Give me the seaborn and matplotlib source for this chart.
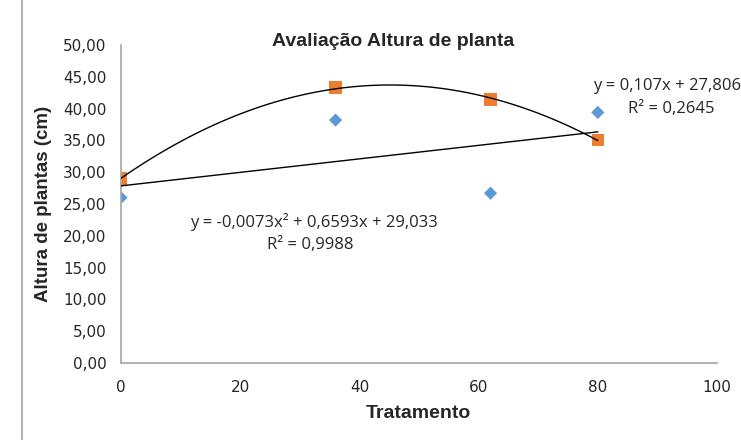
import matplotlib
matplotlib.use("Agg")
import matplotlib.pyplot as plt
from matplotlib.lines import Line2D
from matplotlib.ticker import FuncFormatter, MultipleLocator
import seaborn as sns
import pandas as pd

tratamento = [0, 36, 62, 80]
serie_azul = [26.0, 38.2, 26.7, 39.4]
serie_laranja = [29.0, 43.3, 41.4, 35.1]

title = "Avaliação Altura de planta"
xlabel = "Tratamento"
ylabel = "Altura de plantas (cm)"
eq_lin = "y = 0,107x + 27,806"
r2_lin = "R² = 0,2645"
eq_poly = "y = -0,0073x² + 0,6593x + 29,033"
r2_poly = "R² = 0,9988"

df_a = pd.DataFrame({"x": tratamento, "y": serie_azul})
df_l = pd.DataFrame({"x": tratamento, "y": serie_laranja})

sns.set_style("white")
plt.rcParams['font.family'] = ['Liberation Sans', 'DejaVu Sans']

fig = plt.figure(figsize=(7.41, 4.40), dpi=100)
ax = fig.add_axes([121/741, 1-363/440, (717-121)/741, (363-45)/440])

sns.scatterplot(data=df_a, x="x", y="y", marker="D", s=45, color="#5b9bd5",
                edgecolor="none", ax=ax, zorder=2)
sns.scatterplot(data=df_l, x="x", y="y", marker="s", s=80, color="#ed7d31",
                edgecolor="none", ax=ax, zorder=2)
sns.regplot(data=df_a, x="x", y="y", order=1, ci=None, scatter=False, truncate=True,
            line_kws={"color": "black", "lw": 1.0, "zorder": 3}, ax=ax)
sns.regplot(data=df_l, x="x", y="y", order=2, ci=None, scatter=False, truncate=True,
            line_kws={"color": "black", "lw": 1.0, "zorder": 3}, ax=ax)

ax.set_xlim(0, 100)
ax.set_ylim(0, 50)
ax.xaxis.set_major_locator(MultipleLocator(20))
ax.yaxis.set_major_locator(MultipleLocator(5))
ax.yaxis.set_major_formatter(FuncFormatter(lambda v, p: f"{v:.2f}".replace(".", ",")))
ax.xaxis.set_major_formatter(FuncFormatter(lambda v, p: f"{v:.0f}"))

for s in ["top", "right"]:
    ax.spines[s].set_visible(False)
for s in ["left", "bottom"]:
    ax.spines[s].set_color("#a6a6a6")
    ax.spines[s].set_linewidth(1.2)
ax.tick_params(axis="y", length=0, labelsize=11, pad=10.5)
ax.tick_params(axis="x", length=0, labelsize=11, pad=12.5)
for lab in ax.get_xticklabels() + ax.get_yticklabels():
    lab.set_family(["DejaVu Sans"])
    lab.set_color("#262626")

ax.set_xlabel("")
ax.set_ylabel("")
fig.text(418/741, 1-413/440, xlabel, ha="center", va="center", fontsize=14, fontweight="bold", color="#262626")
fig.text(44/741, 1-204/440, ylabel, ha="center", va="center", rotation=90, fontsize=13.5, fontweight="bold", color="#262626")
fig.text(393/741, 1-42/440, title, ha="center", va="center", fontsize=14, fontweight="bold", color="#262626")

tf = ["Open Sans", "DejaVu Sans"]
fig.text(593/741, 1-86/440, eq_lin, ha="left", va="center", fontsize=12, family=tf, color="#262626")
fig.text(671/741, 1-109/440, r2_lin, ha="center", va="center", fontsize=12, family=tf, color="#262626")
fig.text(314/741, 1-222/440, eq_poly, ha="center", va="center", fontsize=12, family=tf, color="#262626")
fig.text(310/741, 1-245/440, r2_poly, ha="center", va="center", fontsize=12, family=tf, color="#262626")

fig.add_artist(Line2D([22/741, 22/741], [0, 1], transform=fig.transFigure, color="#a6a6a6", lw=1.2))

fig.savefig("out.png", dpi=100)
